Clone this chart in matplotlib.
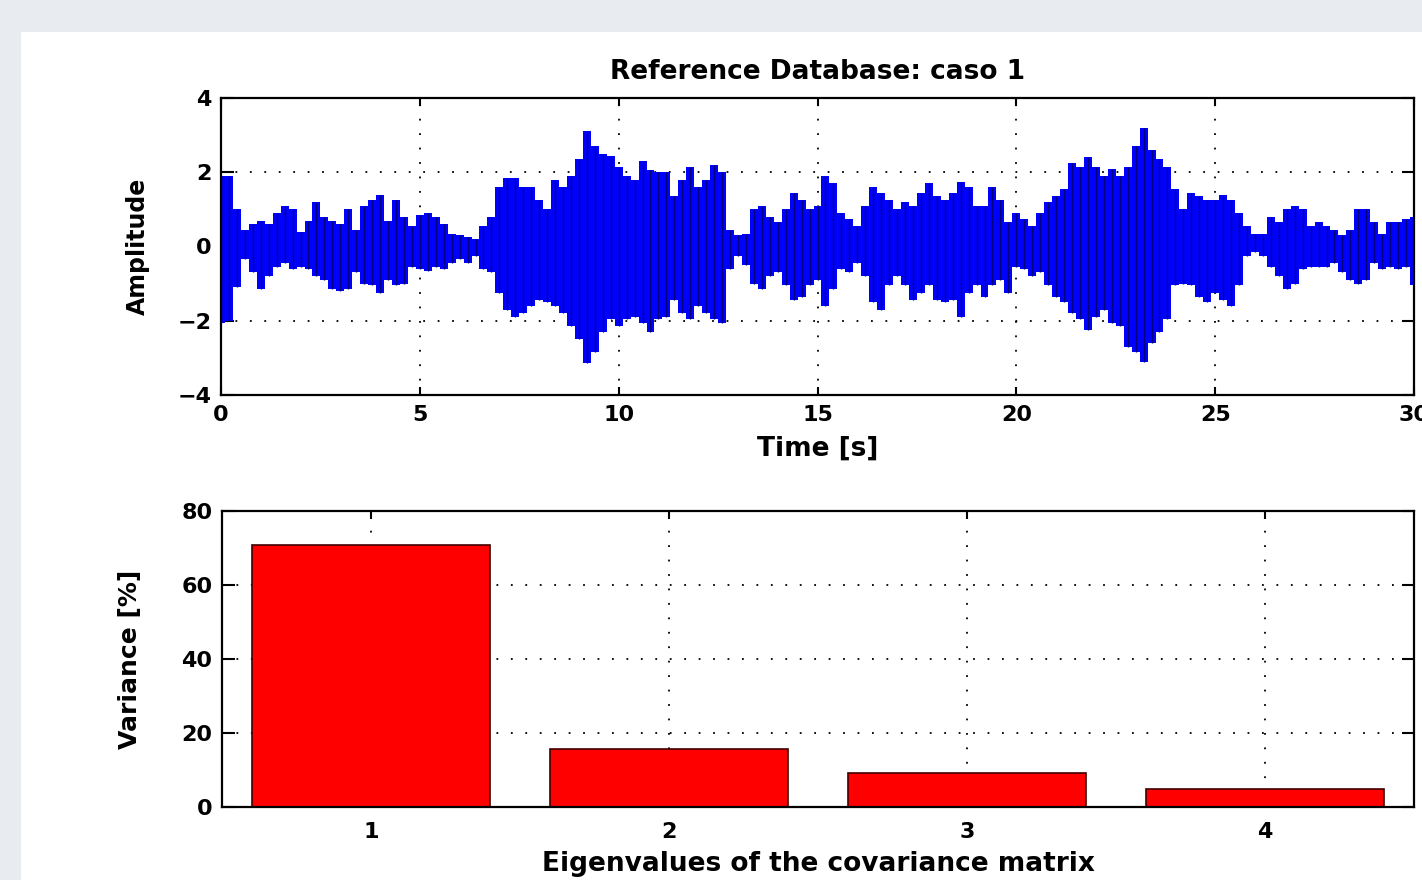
import numpy as np
import matplotlib.pyplot as plt
from matplotlib.patches import Rectangle

# signal envelope, one sample every 0.2 s (0 .. 30 s)
upper = [
    1.9, 1.9, 1.0, 0.45, 0.6, 0.7, 0.6, 0.9, 1.1, 1.0,
    0.4, 0.7, 1.2, 0.8, 0.7, 0.6, 1.0, 0.45, 1.1, 1.25,
    1.4, 0.7, 1.25, 0.8, 0.55, 0.85, 0.9, 0.8, 0.6, 0.35,
    0.3, 0.25, 0.2, 0.55, 0.8, 1.6, 1.85, 1.85,
    1.6, 1.6, 1.25, 1.0, 1.8, 1.6, 1.9, 2.35, 3.1, 2.7,
    2.5, 2.45, 2.15, 1.9, 1.8, 2.3, 2.05, 2.0, 2.0, 1.35,
    1.8, 2.15, 1.6, 1.8, 2.2, 2.0, 0.45, 0.3, 0.35, 1.0,
    1.1, 0.8, 0.65, 1.0, 1.45, 1.25, 1.0, 1.1,
    1.9, 1.7, 0.9, 0.75, 0.55, 1.1, 1.6, 1.45, 1.25, 1.0,
    1.2, 1.1, 1.45, 1.7, 1.35, 1.25, 1.45, 1.75, 1.6, 1.1,
    1.1, 1.6, 1.25, 0.65, 0.9, 0.75, 0.55, 0.9, 1.2, 1.35,
    1.55, 2.25, 2.15, 2.4, 2.15, 1.9, 2.1,
    1.9, 2.15, 2.7, 3.2, 2.6, 2.35, 2.15, 1.55, 1.0, 1.45,
    1.35, 1.25, 1.25, 1.4, 1.25, 0.9, 0.55, 0.35, 0.35, 0.8,
    0.65, 1.0, 1.1, 1.0, 0.55, 0.65, 0.55, 0.45, 0.3, 0.45,
    1.0, 1.0, 0.65, 0.35, 0.65, 0.65, 0.75, 0.8,
]
lower = [
    -2.05, -2.0, -1.1, -0.35, -0.7, -1.15, -0.8, -0.55, -0.45, -0.6,
    -0.55, -0.6, -0.8, -0.9, -1.15, -1.2, -1.15, -0.7, -1.0, -1.05,
    -1.25, -0.9, -1.05, -1.0, -0.55, -0.6, -0.65, -0.55, -0.6, -0.45,
    -0.35, -0.45, -0.25, -0.6, -0.7, -1.25, -1.7, -1.9,
    -1.8, -1.6, -1.45, -1.5, -1.6, -1.8, -2.15, -2.5, -3.15, -2.85,
    -2.3, -1.95, -2.15, -1.95, -1.9, -2.05, -2.3, -1.95, -1.9, -1.45,
    -1.8, -1.95, -1.6, -1.8, -1.95, -2.05, -0.6, -0.25, -0.5, -1.0,
    -1.15, -0.8, -0.7, -1.05, -1.45, -1.35, -1.05, -0.9,
    -1.6, -1.15, -0.6, -0.7, -0.45, -0.8, -1.5, -1.7, -1.05, -0.8,
    -1.05, -1.45, -1.25, -1.05, -1.45, -1.5, -1.45, -1.9, -1.25, -1.05,
    -1.35, -1.05, -0.9, -1.25, -0.55, -0.6, -0.8, -0.7, -1.05, -1.35,
    -1.5, -1.8, -1.95, -2.25, -1.9, -1.7, -2.05,
    -2.15, -2.7, -2.85, -3.1, -2.6, -2.3, -1.95, -1.05, -1.0, -1.05,
    -1.35, -1.5, -1.25, -1.45, -1.6, -1.05, -0.25, -0.15, -0.25, -0.55,
    -0.8, -1.15, -1.0, -0.6, -0.55, -0.55, -0.55, -0.45, -0.7, -0.9,
    -1.0, -0.9, -0.45, -0.6, -0.55, -0.6, -0.55, -1.05,
]
t = np.linspace(0, 30, len(upper))

eig_labels = [1, 2, 3, 4]
variance = [70.8, 15.6, 9.3, 4.8]

plt.rcParams["font.family"] = "DejaVu Sans"
plt.rcParams["font.weight"] = "bold"

fig = plt.figure(figsize=(14.22, 8.8), dpi=100, facecolor="#e8ebf0")
# white figure panel of the screenshot
fig.patches.append(Rectangle((21 / 1422, 0), 1, 1 - 32 / 880, transform=fig.transFigure,
                             facecolor="white", edgecolor="none", zorder=-10))

grid_kw = dict(color="black", linestyle=(0, (1, 7)), linewidth=1.3)


def style_axes(ax):
    for s in ax.spines.values():
        s.set_linewidth(1.6)
    ax.tick_params(direction="in", top=True, right=True, width=1.5, labelsize=16, pad=7)
    ax.tick_params(axis="x", length=6)
    ax.tick_params(axis="y", length=9)
    ax.grid(True, **grid_kw)
    ax.set_axisbelow(True)


ax1 = fig.add_axes([221 / 1422, 1 - 395 / 880, 1193 / 1422, 297 / 880])
ax1.fill_between(t, lower, upper, step="mid", color="#0000ff", linewidth=0)
ax1.vlines(t, lower, upper, color="#00007a", linewidth=1)
ax1.set_xlim(0, 30)
ax1.set_ylim(-4, 4)
ax1.set_xticks([0, 5, 10, 15, 20, 25, 30])
ax1.set_yticks([-4, -2, 0, 2, 4])
style_axes(ax1)
ax1.set_title("Reference Database: caso 1", fontsize=19, fontweight="bold", pad=14)
ax1.set_xlabel("Time [s]", fontsize=19, fontweight="bold", labelpad=8)
ax1.set_ylabel("Amplitude", fontsize=17, fontweight="bold", labelpad=20)

ax2 = fig.add_axes([222 / 1422, 1 - 807 / 880, 1192 / 1422, 296 / 880])
ax2.bar(eig_labels, variance, width=0.8, color="#ff0000", edgecolor="#400000", linewidth=1.2)
ax2.set_xlim(0.5, 4.5)
ax2.set_ylim(0, 80)
ax2.set_xticks(eig_labels)
ax2.set_yticks([0, 20, 40, 60, 80])
style_axes(ax2)
ax2.tick_params(axis="x", pad=11)
ax2.set_xlabel("Eigenvalues of the covariance matrix", fontsize=19, fontweight="bold", labelpad=6)
ax2.set_ylabel("Variance [%]", fontsize=18, fontweight="bold", labelpad=28)

plt.savefig("out.png", dpi=100, facecolor=fig.get_facecolor())
